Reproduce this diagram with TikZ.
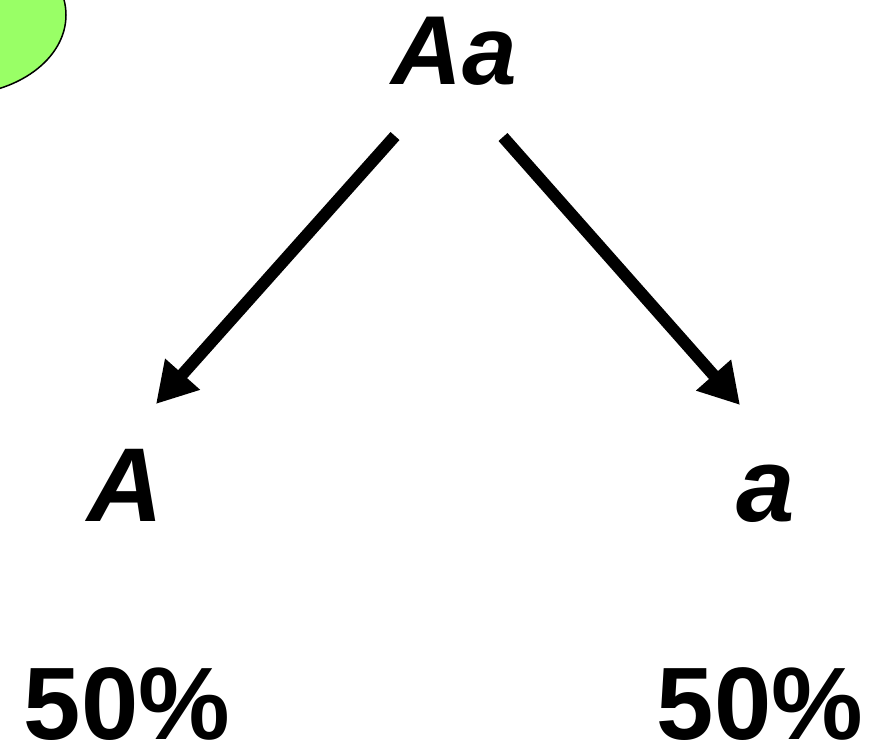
\documentclass[tikz,border=0pt]{standalone}
\usepackage{fontspec}
\setmainfont{Liberation Sans}
\usetikzlibrary{arrows.meta}
\definecolor{leafgreen}{RGB}{153,255,102}
\begin{document}
\begin{tikzpicture}[x=1pt,y=-1pt,
  lbl/.style={inner sep=0pt,anchor=base,font=\fontsize{105}{110}\selectfont\bfseries\itshape},
  toplbl/.style={lbl,font=\fontsize{98}{104}\selectfont\bfseries\itshape},
  pct/.style={inner sep=0pt,anchor=base,font=\fontsize{103}{108}\selectfont\bfseries},
  bigarrow/.style={line width=12pt,line cap=butt,-{Triangle[length=40pt,width=44pt]}}]
\useasboundingbox (0,0) rectangle (876,750);
\begin{scope}
\clip (0,0) rectangle (876,750);
\draw[line width=1.5pt,fill=leafgreen] (-44,15) ellipse [x radius=110, y radius=80];
\end{scope}
\node[toplbl] (Aa) at (454,84) {Aa};
\node[lbl] (A) at (125,521) {A};
\node[lbl] (a) at (766,521) {a};
\node[pct] (p1) at (127,739) {50\%};
\node[pct] (p2) at (760,739) {50\%};
\coordinate (l0) at (395,136);
\coordinate (l1) at (156,404);
\coordinate (r0) at (503,137);
\coordinate (r1) at (740,405);
\draw[bigarrow] (l0) -- (l1);
\draw[bigarrow] (r0) -- (r1);
\end{tikzpicture}
\end{document}
